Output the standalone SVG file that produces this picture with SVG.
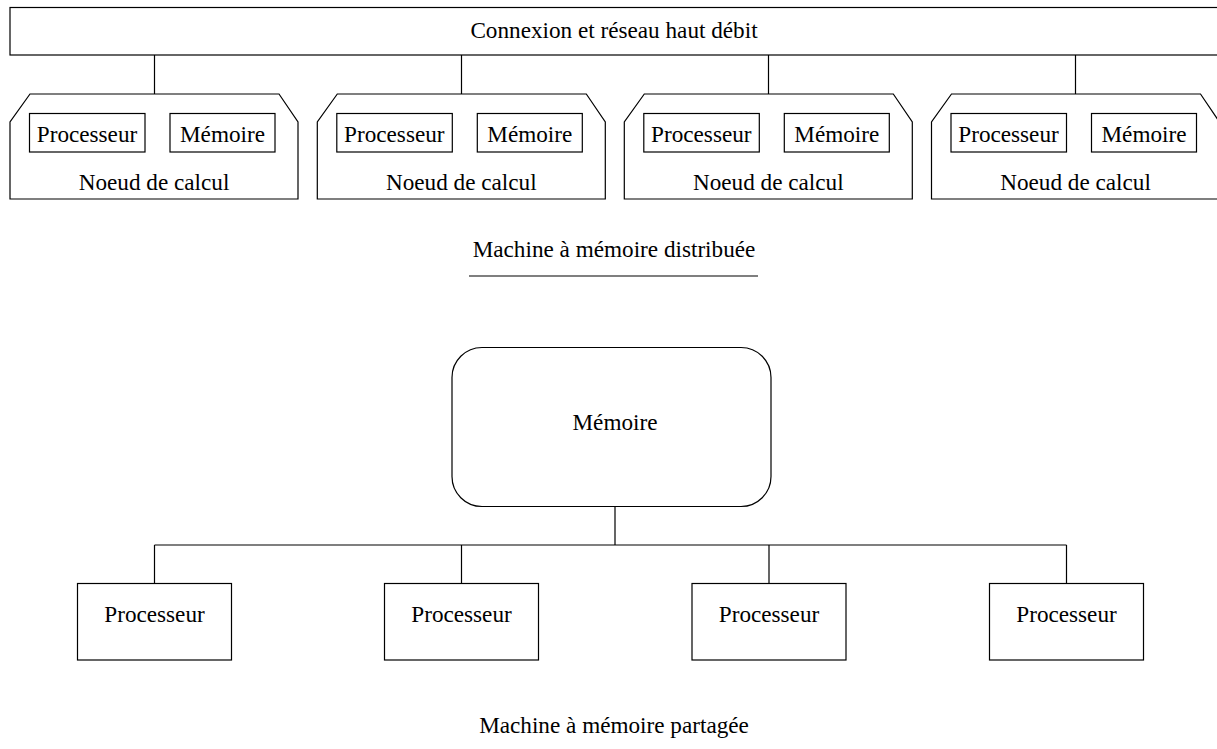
<svg xmlns="http://www.w3.org/2000/svg" width="1217" height="749" viewBox="0 0 1217 749">
<style>
.s{fill:#fff;stroke:#000;stroke-width:1.2}
.t{font-family:"Liberation Serif","Times New Roman",serif;font-size:23.2px;fill:#000;text-anchor:middle}
.c{fill:none;stroke:#000;stroke-width:1.2}
</style>
<defs>
<path id="oct" d="M30,94 L279,94 L298,122 L298,199 L10,199 L10,122 Z"/>
</defs>
<rect width="1217" height="749" fill="#fff"/>
<g id="connectors">
<path class="c" d="M154.5,55V94 M461.5,55V94 M768.5,55V94 M1075.5,55V94"/>
<path class="c" d="M469,276H758"/>
<path class="c" d="M615,506V545 M154.5,545H1066.5 M154.5,545V583 M461.5,545V583 M769,545V583 M1066.5,545V583"/>
</g>
<g id="bus">
<rect class="s" x="10" y="7.5" width="1220" height="47.5"/>
<text class="t" x="614" y="38">Connexion et réseau haut débit</text>
</g>
<g id="node1">
<use href="#oct" class="s"/>
<rect class="s" x="29.5" y="113.5" width="115.5" height="38.5"/>
<rect class="s" x="170" y="113.5" width="105" height="38.5"/>
<text class="t" x="87" y="141.5">Processeur</text>
<text class="t" x="222.5" y="141.5">Mémoire</text>
<text class="t" x="154" y="190">Noeud de calcul</text>
</g>
<g id="node2" transform="translate(307.3,0)">
<use href="#oct" class="s"/>
<rect class="s" x="29.5" y="113.5" width="115.5" height="38.5"/>
<rect class="s" x="170" y="113.5" width="105" height="38.5"/>
<text class="t" x="87" y="141.5">Processeur</text>
<text class="t" x="222.5" y="141.5">Mémoire</text>
<text class="t" x="154" y="190">Noeud de calcul</text>
</g>
<g id="node3" transform="translate(614.3,0)">
<use href="#oct" class="s"/>
<rect class="s" x="29.5" y="113.5" width="115.5" height="38.5"/>
<rect class="s" x="170" y="113.5" width="105" height="38.5"/>
<text class="t" x="87" y="141.5">Processeur</text>
<text class="t" x="222.5" y="141.5">Mémoire</text>
<text class="t" x="154" y="190">Noeud de calcul</text>
</g>
<g id="node4" transform="translate(921.5,0)">
<use href="#oct" class="s"/>
<rect class="s" x="29.5" y="113.5" width="115.5" height="38.5"/>
<rect class="s" x="170" y="113.5" width="105" height="38.5"/>
<text class="t" x="87" y="141.5">Processeur</text>
<text class="t" x="222.5" y="141.5">Mémoire</text>
<text class="t" x="154" y="190">Noeud de calcul</text>
</g>
<g id="label-distribuee">
<text class="t" x="614" y="257">Machine à mémoire distribuée</text>
</g>
<g id="memoire">
<rect class="s" x="452" y="347.5" width="319" height="159" rx="30" ry="30"/>
<text class="t" x="615" y="430">Mémoire</text>
</g>
<g id="proc1"><rect class="s" x="77.5" y="583.5" width="154" height="76.5"/><text class="t" x="154.5" y="621.5">Processeur</text></g>
<g id="proc2"><rect class="s" x="384.5" y="583.5" width="154" height="76.5"/><text class="t" x="461.5" y="621.5">Processeur</text></g>
<g id="proc3"><rect class="s" x="692" y="583.5" width="154" height="76.5"/><text class="t" x="769" y="621.5">Processeur</text></g>
<g id="proc4"><rect class="s" x="989.5" y="583.5" width="154" height="76.5"/><text class="t" x="1066.5" y="621.5">Processeur</text></g>
<g id="label-partagee">
<text class="t" x="614" y="733">Machine à mémoire partagée</text>
</g>
</svg>
